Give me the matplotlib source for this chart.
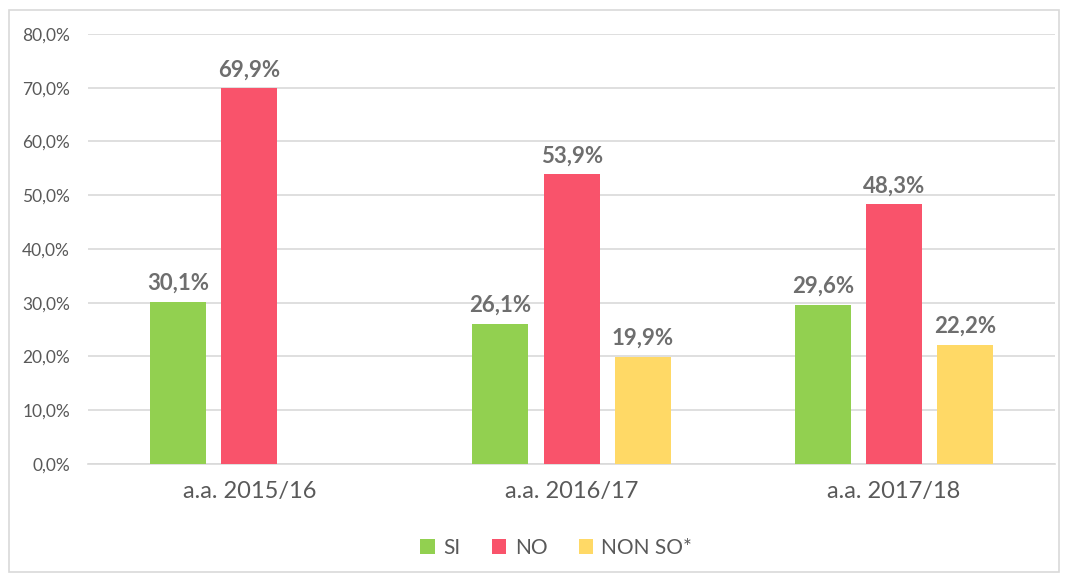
import numpy as np
import matplotlib.pyplot as plt
from matplotlib.patches import Rectangle

categories = ['a.a. 2015/16', 'a.a. 2016/17', 'a.a. 2017/18']
series_names = ['SI', 'NO', 'NON SO*']
si = [30.1, 26.1, 29.6]
no = [69.9, 53.9, 48.3]
non_so = [np.nan, 19.9, 22.2]
yticks = [0, 10, 20, 30, 40, 50, 60, 70, 80]

colors = ['#92D050', '#F9536B', '#FFD966']

plt.rcParams['font.family'] = ['Lato', 'DejaVu Sans']

fig = plt.figure(figsize=(10.68, 5.81), dpi=100)
ax = fig.add_axes([0.0825, 0.2014, 0.9055, 0.7401])

# light border around the whole chart
fig.patches.append(Rectangle((0.008, 0.016), 0.984, 0.966, transform=fig.transFigure,
                             fill=False, edgecolor='#D9D9D9', linewidth=1.2))

x = np.arange(len(categories))
width = 0.174
step = 0.221
for i, (vals, name) in enumerate(zip([si, no, non_so], series_names)):
    pos = x + (i - 1) * step
    ax.bar(pos, vals, width, color=colors[i], label=name, zorder=3)
    for p, v in zip(pos, vals):
        if np.isnan(v):
            continue
        ax.text(p, v + 1.5, f'{v:.1f}%'.replace('.', ','), ha='center', va='bottom',
                fontsize=16, fontweight='bold', color='#6E6E6E')

ax.set_xlim(-0.5, 2.5)
ax.set_ylim(0, 80)
ax.set_yticks(yticks)
ax.set_yticklabels([f'{t:.1f}%'.replace('.', ',') for t in yticks])
ax.set_xticks(x)
ax.set_xticklabels(categories)
ax.tick_params(axis='y', length=0, labelsize=12.5, labelcolor='#595959', pad=13)
ax.tick_params(axis='x', length=0, labelsize=17, labelcolor='#595959', pad=12)
ax.grid(axis='y', color='#D9D9D9', linewidth=1.2, zorder=0)
for s in ['top', 'right', 'left']:
    ax.spines[s].set_visible(False)
ax.spines['bottom'].set_color('#D9D9D9')
ax.spines['bottom'].set_linewidth(1.2)

fig.legend(loc='center', bbox_to_anchor=(0.521, 0.057), ncol=3, frameon=False,
           fontsize=15, labelcolor='#595959', handlelength=0.7, handleheight=0.7,
           handletextpad=0.4, columnspacing=1.5)

fig.savefig('out.png', dpi=100)
